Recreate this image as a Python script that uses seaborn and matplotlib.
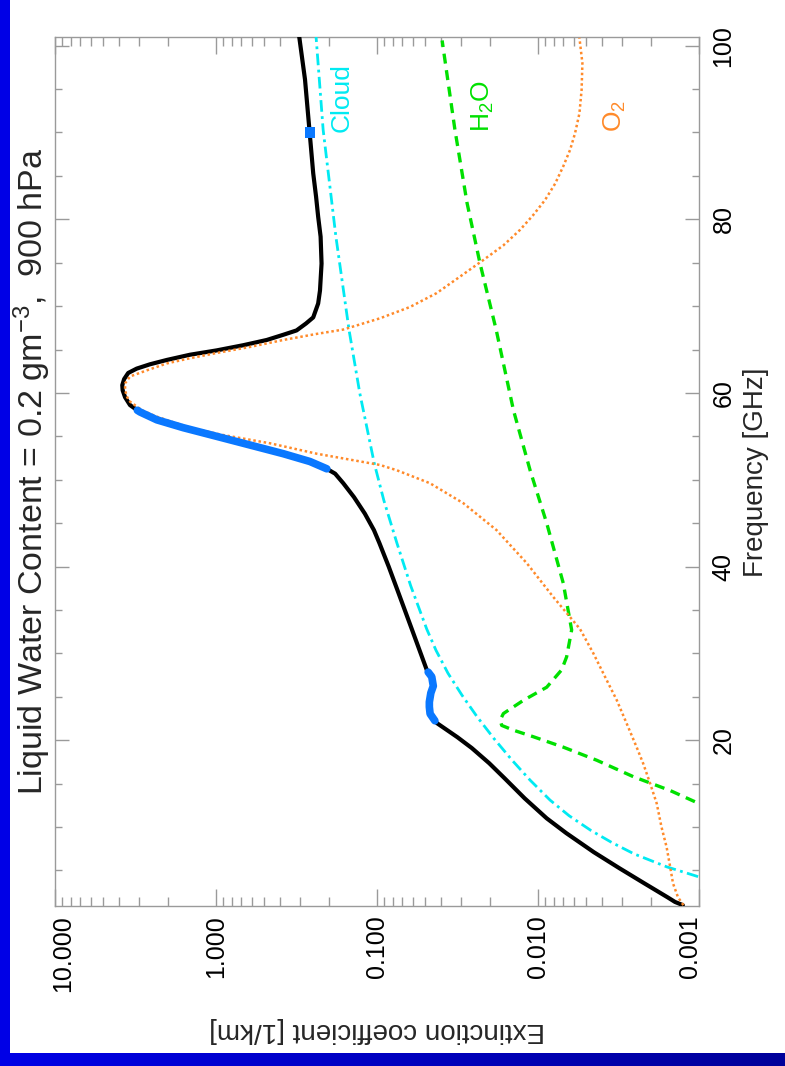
import numpy as np
import matplotlib
matplotlib.use("Agg")
import matplotlib.pyplot as plt
import matplotlib.transforms as mtransforms
from matplotlib.ticker import FixedLocator, LogLocator, NullFormatter
from matplotlib.patches import Rectangle
from matplotlib.colors import LinearSegmentedColormap
import seaborn as sns

# ---------------- data ----------------
# total extinction (black), frequency in GHz, extinction in 1/km
total_freq = [1.0, 1.37, 1.91, 3.52, 5.25, 7.1, 9.3, 11.0, 13.3, 15.6, 17.35, 19.1, 20.35,
              21.96, 22.24, 23.04, 23.84, 24.4, 25.44, 26.24, 27.3, 27.84, 28.1, 32.8,
              37.3, 40.0, 42.7, 44.2, 46.1, 48.0, 49.6, 50.7, 51.26, 52.1, 53.0, 54.0,
              55.0, 56.0, 56.9, 57.8, 58.0, 58.6, 59.5, 60.3, 60.9, 61.6, 62.3, 62.8,
              63.3, 63.8, 64.4, 64.9, 65.5, 66.1, 66.7, 67.2, 68.0, 68.7, 70.3, 71.8,
              74.9, 78.0, 80.3, 82.6, 85.3, 90.0, 96.1, 101.0]
total_ext = [0.00126, 0.00141, 0.00157, 0.00219, 0.00312, 0.00450, 0.00668, 0.00883,
             0.0121, 0.0161, 0.0201, 0.0258, 0.0317, 0.0424, 0.0437, 0.0468, 0.0473,
             0.0473, 0.0463, 0.0447, 0.0457, 0.0481, 0.0491, 0.0608, 0.0747, 0.0846,
             0.0966, 0.1045, 0.119, 0.139, 0.162, 0.182, 0.205, 0.261, 0.382, 0.615,
             0.991, 1.60, 2.33, 2.96, 3.08, 3.42, 3.67, 3.80, 3.82, 3.72, 3.51, 3.11,
             2.57, 2.02, 1.45, 0.991, 0.676, 0.484, 0.382, 0.316, 0.276, 0.249, 0.232,
             0.226, 0.221, 0.224, 0.232, 0.239, 0.249, 0.262, 0.280, 0.304]

# cloud liquid water absorption (cyan)
cloud_freq = [3.0, 4.25, 5.4, 6.9, 8.2, 9.6, 11.3, 13.1, 15.4, 17.7, 20.2, 22.7, 25.2,
              27.7, 30.35, 32.8, 37.8, 42.7, 47.6, 51.9, 60.0, 67.2, 78.0, 90.3, 101.0]
cloud_ext = [0.00053, 0.00100, 0.00158, 0.00253, 0.00347, 0.00469, 0.00641, 0.00842,
             0.0112, 0.0145, 0.0188, 0.0239, 0.0297, 0.0362, 0.0430, 0.0491, 0.0618,
             0.0752, 0.0906, 0.104, 0.128, 0.149, 0.180, 0.216, 0.239]

# water vapour absorption (green)
h2o_freq = [12.2, 12.7, 14.2, 15.8, 17.7, 19.2, 20.4, 21.15, 21.7, 22.3, 23.07, 24.6,
            26.1, 28.1, 29.6, 32.7, 38.1, 45.0, 51.1, 58.0, 67.3, 74.9, 81.9, 90.3, 100.6]
h2o_ext = [0.00085, 0.00100, 0.00151, 0.00256, 0.00433, 0.00697, 0.0107, 0.0142,
           0.0168, 0.0172, 0.0164, 0.0123, 0.00883, 0.00713, 0.00664, 0.00618, 0.00697,
           0.00883, 0.0112, 0.0142, 0.0182, 0.0229, 0.0276, 0.0328, 0.0394]

# oxygen absorption (orange)
o2_freq = [1.0, 1.9, 3.5, 5.4, 7.7, 10.0, 12.7, 15.0, 17.3, 19.2, 21.9, 24.6, 26.9, 30.0,
           32.8, 36.5, 40.4, 44.2, 47.3, 49.6, 51.1, 51.7, 53.0, 54.2, 55.2, 56.0, 56.66,
           57.3, 58.0, 59.0, 59.5, 60.3, 61.1, 61.9, 62.6, 63.4, 64.0, 64.6, 65.3, 66.1,
           66.8, 67.3, 68.6, 69.9, 71.5, 73.4, 75.3, 77.0, 78.8, 80.5, 82.2, 84.1, 86.1,
           88.0, 89.9, 92.2, 94.9, 98.0, 100.9]
o2_ext = [0.00125, 0.00135, 0.00145, 0.00151, 0.00159, 0.00171, 0.00183, 0.00201,
          0.00222, 0.00244, 0.00281, 0.00324, 0.00374, 0.00453, 0.00548, 0.00804,
          0.01175, 0.0181, 0.0291, 0.0469, 0.0755, 0.0957, 0.237, 0.462, 0.933, 1.45,
          1.87, 2.36, 2.88, 3.42, 3.56, 3.67, 3.67, 3.42, 2.69, 2.02, 1.45, 0.991, 0.615,
          0.382, 0.237, 0.162, 0.0957, 0.0624, 0.0426, 0.0305, 0.0219, 0.0164, 0.0129,
          0.0107, 0.00906, 0.00783, 0.00697, 0.00632, 0.00589, 0.00553, 0.00536,
          0.00530, 0.00553]

# radiometer channel bands (GHz) and single channel
bands = [(22.24, 27.84), (51.26, 58.0)]
single_channel = 90.0

# curve labels
label_texts = ["Cloud", "H$_2$O", "O$_2$"]
label_ext = [0.15, 0.02, 0.003]
label_freq = 90.0

x_ticks = [10, 1, 0.1, 0.01, 0.001]
x_ticklabels = ["10.000", "1.000", "0.100", "0.010", "0.001"]
y_ticks = [20, 40, 60, 80, 100]
y_ticklabels = ["20", "40", "60", "80", "100"]

title = "Liquid Water Content = 0.2 gm$^{-3}$,  900 hPa"
xlabel = "Extinction coefficient [1/km]"
ylabel = "Frequency [GHz]"

# ---------------- styling ----------------
sns.set_theme(style="white")
plt.rcParams["font.family"] = ["Liberation Sans", "DejaVu Sans"]
plt.rcParams["mathtext.fontset"] = "custom"
plt.rcParams["mathtext.rm"] = "Liberation Sans"
plt.rcParams["mathtext.default"] = "regular"

BLACK = "#000000"
BLUE = "#0a78ff"
CYAN = "#00eaf2"
GREEN = "#00e000"
ORANGE = "#ff8a2a"
AXIS_GREY = "#9a9a9a"

W, H = 785, 1066
fig = plt.figure(figsize=(W / 100, H / 100), dpi=100)
fig.patch.set_facecolor("white")

# plot frame (frequency runs upward, extinction decreases to the right)
ax = fig.add_axes([55 / W, (H - 906) / H, (699 - 55) / W, (906 - 37) / H])
ax.set_facecolor("white")

sns.lineplot(x=total_ext, y=total_freq, sort=False, estimator=None, color=BLACK,
             lw=3.0, ax=ax, zorder=3)
sns.lineplot(x=cloud_ext, y=cloud_freq, sort=False, estimator=None, color=CYAN,
             lw=2.0, linestyle=(0, (4.2, 1.6, 1.0, 1.6)), ax=ax, zorder=4)
sns.lineplot(x=h2o_ext, y=h2o_freq, sort=False, estimator=None, color=GREEN,
             lw=2.4, linestyle=(0, (3.0, 2.0)), ax=ax, zorder=4)
sns.lineplot(x=o2_ext, y=o2_freq, sort=False, estimator=None, color=ORANGE,
             lw=1.8, linestyle=(0, (1.0, 1.1)), ax=ax, zorder=5)

tf = np.array(total_freq)
te = np.array(total_ext)
for lo, hi in bands:
    m = (tf >= lo) & (tf <= hi)
    sns.lineplot(x=te[m], y=tf[m], sort=False, estimator=None, color=BLUE, lw=5.5,
                 solid_capstyle="round", solid_joinstyle="round", ax=ax, zorder=6)
ch = tf == single_channel
sns.scatterplot(x=te[ch], y=tf[ch], marker="s", s=55, color=BLUE, edgecolor="none",
                ax=ax, zorder=7)

label_colors = [CYAN, GREEN, ORANGE]
for txt, xe, c in zip(label_texts, label_ext, label_colors):
    ax.text(xe, label_freq, txt, color=c, fontsize=19, rotation=90,
            rotation_mode="anchor", ha="left", va="baseline", zorder=8)

ax.set_xscale("log")
ax.set_xlim(10, 0.001)
ax.set_ylim(0.9, 101)
ax.set_xlabel("")
ax.set_ylabel("")

ax.xaxis.set_major_locator(FixedLocator(x_ticks))
ax.set_xticklabels(x_ticklabels)
ax.xaxis.set_minor_locator(LogLocator(base=10, subs=np.arange(2, 10)))
ax.xaxis.set_minor_formatter(NullFormatter())
ax.yaxis.set_major_locator(FixedLocator(y_ticks))
ax.set_yticklabels(y_ticklabels)
ax.yaxis.set_minor_locator(FixedLocator(np.arange(5, 101, 5)))

ax.tick_params(axis="x", which="both", direction="in", bottom=True, top=True,
               color=AXIS_GREY, width=1.0, labelsize=18, labelcolor="black",
               labelrotation=90, pad=7)
ax.tick_params(axis="x", which="major", length=12)
ax.tick_params(axis="x", which="minor", length=6.5)
ax.tick_params(axis="y", which="both", direction="in", left=True, right=True,
               labelleft=False, labelright=True, color=AXIS_GREY, width=1.0,
               labelsize=18, labelcolor="black", labelrotation=90, pad=9)
ax.tick_params(axis="y", which="major", length=10)
ax.tick_params(axis="y", which="minor", length=5)
for lbl in ax.get_yticklabels():
    lbl.set_va("center")
for sp in ax.spines.values():
    sp.set_color(AXIS_GREY)
    sp.set_linewidth(1.0)

# keep the outermost extinction labels inside the frame width
xl = ax.get_xticklabels()
xl[0].set_transform(xl[0].get_transform() +
                    mtransforms.ScaledTranslation(8 / 100, 0, fig.dpi_scale_trans))
xl[-1].set_transform(xl[-1].get_transform() +
                     mtransforms.ScaledTranslation(-9 / 100, 0, fig.dpi_scale_trans))

# titles and axis captions, turned with the frame
fig.text(43 / W, 1 - 471.5 / H, title, fontsize=24.5, rotation=90,
         rotation_mode="anchor", ha="center", va="baseline")
fig.text(763 / W, 1 - 472 / H, ylabel, fontsize=20, rotation=90,
         rotation_mode="anchor", ha="center", va="baseline")
fig.text(377 / W, 1 - 1023 / H, xlabel, fontsize=20, rotation=180,
         rotation_mode="anchor", ha="center", va="baseline")

# slide border: solid strip on the left, shaded strip along the bottom
fig.patches.append(Rectangle((0, 0), 10 / W, 1, transform=fig.transFigure,
                             facecolor="#0000e6", edgecolor="none", zorder=10))
bax = fig.add_axes([0, 0, 1, 13 / H])
grad = np.linspace(0, 1, 256)[None, :]
cmap = LinearSegmentedColormap.from_list("strip", ["#0000e6", "#00009a"])
bax.imshow(grad, aspect="auto", cmap=cmap, extent=[0, 1, 0, 1])
bax.set_axis_off()

fig.savefig("out.png", dpi=100, facecolor="white")
